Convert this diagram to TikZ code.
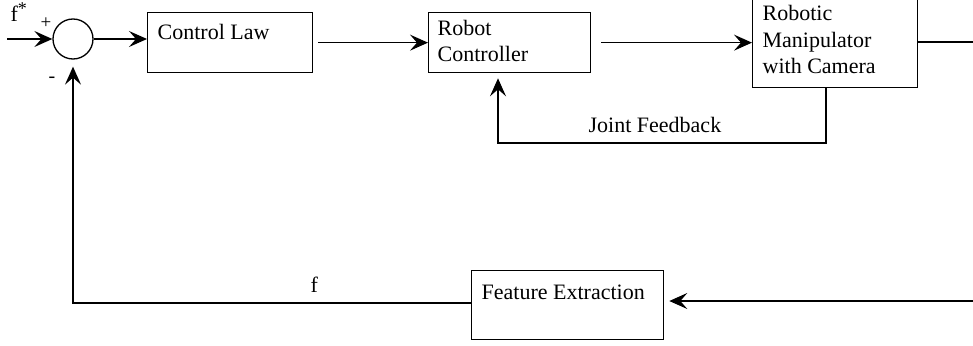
\documentclass[tikz,border=0pt]{standalone}
\usepackage{fontspec}
\setmainfont{Liberation Serif}
\usetikzlibrary{arrows.meta}
\begin{document}
\begin{tikzpicture}[x=1pt,y=-1pt,
  line width=1.3pt,
  box/.style={draw, line width=1.3pt, inner sep=0pt, anchor=north west},
  txt/.style={anchor=base west, inner sep=0pt, font=\fontsize{22}{26}\selectfont},
  arr/.style={-{Stealth[length=18pt,width=16pt,inset=7pt]}}]
\useasboundingbox (0,0) rectangle (973,345);
% sum junction
\node[draw, circle, minimum size=40pt, inner sep=0pt, line width=1.3pt] (sum) at (73,39) {};
\coordinate (in) at (7,39);
\node[txt] (fstar) at (10,22) {f\raisebox{7pt}{\fontsize{18}{18}\selectfont *}};
\node[txt] (plus) at (40,29) {\fontsize{19}{19}\selectfont +};
\node[txt] (minus) at (48,82) {\fontsize{20}{20}\selectfont -};
% boxes
\node[box, minimum width=165pt, minimum height=60pt] (cl) at (147,12) {};
\node[txt] (cltxt) at ([xshift=10pt,yshift=-28pt]cl.north west) {Control Law};
\node[box, minimum width=162pt, minimum height=60pt] (rc) at (428,12) {};
\node[txt] (rctxt1) at ([xshift=9pt,yshift=-24pt]rc.north west) {Robot};
\node[txt] (rctxt2) at ([xshift=9pt,yshift=-49pt]rc.north west) {Controller};
\node[box, minimum width=165pt, minimum height=90pt] (rm) at (752,-3) {};
\node[txt] (rmtxt1) at (762,21) {Robotic};
\node[txt] (rmtxt2) at (762,47.5) {Manipulator};
\node[txt] (rmtxt3) at (762,74) {with Camera};
\node[box, minimum width=192pt, minimum height=69pt] (fe) at (471,270) {};
\node[txt] (fetxt) at ([xshift=10pt,yshift=-29pt]fe.north west) {Feature Extraction};
% connectors
\draw[arr] (in) -- (sum.west);
\draw[arr] (sum.east) -- (cl.west |- sum.east);
\draw[arr] ([xshift=5pt]cl.east) -- (rc.west |- cl.east);
\draw[arr] ([xshift=10pt]rc.east) -- (rm.west |- rc.east);
\coordinate (outR) at (973,42);
\draw (rm.east |- outR) -- (outR);
% joint feedback
\coordinate (jf1) at (826,143);
\coordinate (jf2) at (498,143);
\draw[arr, shorten >=5pt] (rm.south -| jf1) -- (jf1) -- (jf2) -- (rc.south -| jf2);
\node[txt] (jftxt) at (588,132) {Joint Feedback};
% feature feedback
\coordinate (inR) at (973,301);
\draw[arr] (inR) -- ([xshift=5pt]fe.east |- inR);
\coordinate (fb1) at (73,303);
\draw[arr, shorten >=7pt] (fe.west |- fb1) -- (fb1) -- (sum.south);
\node[txt] (flab) at (310,292) {f};
\end{tikzpicture}
\end{document}
